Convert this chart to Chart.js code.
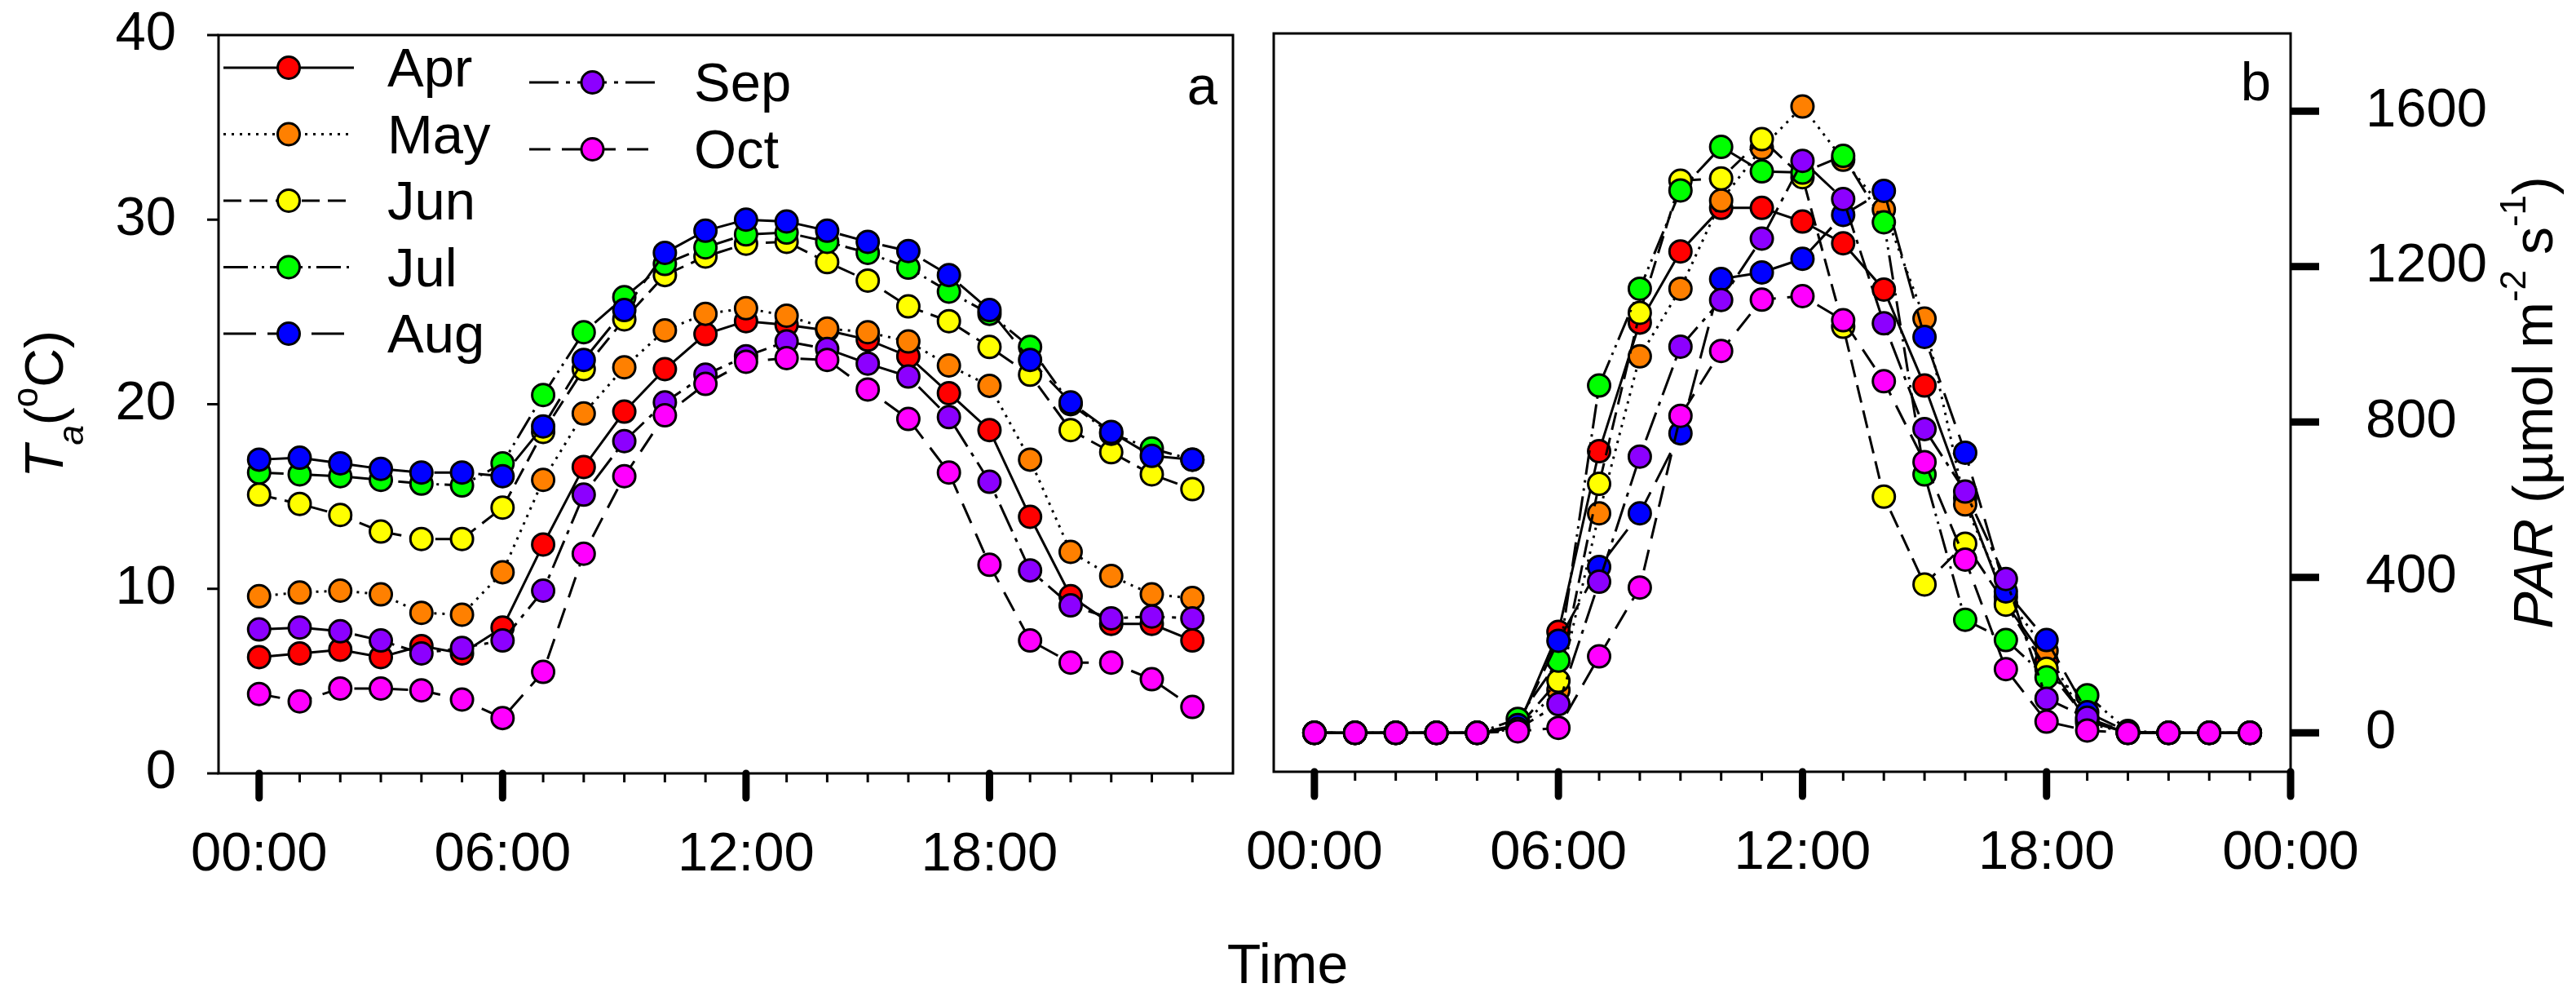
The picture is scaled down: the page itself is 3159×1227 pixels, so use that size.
<!DOCTYPE html>
<html>
<head>
<meta charset="utf-8">
<script src="https://cdn.jsdelivr.net/npm/chart.js@4.4.0/dist/chart.umd.min.js"></script>
<style>
  html, body { margin: 0; padding: 0; background: #fff; }
  body { width: 3159px; height: 1227px; position: relative; overflow: hidden; }
  canvas { position: absolute; top: 0; }
  #taChart { left: 0; }
  #parChart { left: 1500px; }
</style>
</head>
<body>
<canvas id="taChart" width="1700" height="1227"></canvas>
<canvas id="parChart" width="1659" height="1227"></canvas>
<script>
// hour of day for every point
const hours = [0, 1, 2, 3, 4, 5, 6, 7, 8, 9, 10, 11, 12, 13, 14, 15, 16, 17, 18, 19, 20, 21, 22, 23];
const months = ['Apr', 'May', 'Jun', 'Jul', 'Aug', 'Sep', 'Oct'];
const monthColors = ['#ff0000', '#ff8000', '#ffff00', '#00ff00', '#0000ff', '#8c00ff', '#ff00ff'];
const lineDashes = [[], [3, 7], [22, 10], [30, 7, 3, 7, 3, 7], [40, 14], [36, 9, 5, 9], [26, 14]];

// air temperature (deg C), panel a
const taApr = [6.3, 6.5, 6.7, 6.3, 6.9, 6.5, 7.9, 12.4, 16.6, 19.6, 21.9, 23.8, 24.5, 24.3, 24.0, 23.5, 22.6, 20.6, 18.6, 13.9, 9.6, 8.1, 8.1, 7.2];
const taMay = [9.6, 9.8, 9.9, 9.7, 8.7, 8.6, 10.9, 15.9, 19.5, 22.0, 24.0, 24.9, 25.2, 24.8, 24.1, 23.9, 23.4, 22.1, 21.0, 17.0, 12.0, 10.7, 9.7, 9.5];
const taJun = [15.1, 14.6, 14.0, 13.1, 12.7, 12.7, 14.4, 18.5, 21.9, 24.6, 27.0, 28.0, 28.7, 28.8, 27.7, 26.7, 25.3, 24.5, 23.1, 21.6, 18.6, 17.4, 16.2, 15.4];
const taJul = [16.3, 16.2, 16.1, 15.9, 15.7, 15.6, 16.8, 20.5, 23.9, 25.8, 27.6, 28.5, 29.2, 29.3, 28.8, 28.2, 27.4, 26.1, 24.9, 23.1, 20.0, 18.4, 17.6, 17.0];
const taAug = [17.0, 17.1, 16.8, 16.5, 16.3, 16.3, 16.1, 18.8, 22.4, 25.1, 28.2, 29.4, 30.0, 29.9, 29.4, 28.8, 28.3, 27.0, 25.1, 22.4, 20.1, 18.5, 17.2, 17.0];
const taSep = [7.8, 7.9, 7.7, 7.2, 6.5, 6.8, 7.2, 9.9, 15.1, 18.0, 20.1, 21.6, 22.6, 23.4, 23.0, 22.2, 21.5, 19.3, 15.8, 11.0, 9.1, 8.4, 8.5, 8.4];
const taOct = [4.3, 3.9, 4.6, 4.6, 4.5, 4.0, 3.0, 5.5, 11.9, 16.1, 19.4, 21.1, 22.3, 22.5, 22.4, 20.8, 19.2, 16.3, 11.3, 7.2, 6.0, 6.0, 5.1, 3.6];

// PAR (umol m-2 s-1), panel b
const parApr = [0, 0, 0, 0, 0, 15, 260, 725, 1056, 1239, 1351, 1351, 1316, 1260, 1141, 894, 605, 333, 185, 30, 0, 0, 0, 0];
const parMay = [0, 0, 0, 0, 0, 10, 110, 565, 969, 1143, 1370, 1505, 1612, 1475, 1347, 1066, 588, 350, 211, 25, 0, 0, 0, 0];
const parJun = [0, 0, 0, 0, 0, 15, 134, 641, 1081, 1421, 1427, 1528, 1430, 1045, 608, 382, 487, 330, 165, 35, 0, 0, 0, 0];
const parJul = [0, 0, 0, 0, 0, 36, 186, 894, 1143, 1396, 1508, 1445, 1442, 1485, 1314, 665, 291, 239, 143, 97, 5, 0, 0, 0];
const parAug = [0, 0, 0, 0, 0, 20, 237, 427, 565, 771, 1168, 1185, 1220, 1333, 1395, 1019, 721, 364, 239, 53, 3, 0, 0, 0];
const parSep = [0, 0, 0, 0, 0, 10, 74, 389, 711, 994, 1114, 1272, 1472, 1374, 1054, 782, 621, 396, 88, 39, 0, 0, 0, 0];
const parOct = [0, 0, 0, 0, 0, 4, 13, 197, 374, 816, 983, 1115, 1124, 1062, 905, 697, 446, 164, 29, 6, 0, 0, 0, 0];

const taTicks = [0, 10, 20, 30, 40];
const parTicks = [0, 400, 800, 1200, 1600];
const majorHours = [0, 6, 12, 18, 24];
const timeLabels = ['00:00', '06:00', '12:00', '18:00', '00:00'];

const FONT = '"Liberation Sans", Arial, sans-serif';

function fontOf(p) {
    return (p.italic ? 'italic ' : '') + p.size + 'px ' + FONT;
}

// draws a run of text pieces (sub/superscripts via dy), centred on y
function drawRich(ctx, parts, x, y, vertical) {
    ctx.save();
    ctx.translate(x, y);
    if (vertical) ctx.rotate(-Math.PI / 2);
    let total = 0;
    parts.forEach(p => {
        ctx.font = fontOf(p);
        p.w = ctx.measureText(p.t).width;
        total += p.w;
    });
    let cur = -total / 2;
    ctx.fillStyle = '#000';
    ctx.textAlign = 'left';
    ctx.textBaseline = 'alphabetic';
    parts.forEach(p => {
        ctx.font = fontOf(p);
        ctx.fillText(p.t, cur, p.dy || 0);
        cur += p.w;
    });
    ctx.restore();
}

function makeDatasets(series) {
    return series.map((vals, i) => ({
        label: months[i],
        data: hours.map((h, j) => ({ x: h, y: vals[j] })),
        borderColor: '#000',
        borderWidth: 3,
        borderDash: lineDashes[i],
        backgroundColor: monthColors[i],
        pointBackgroundColor: monthColors[i],
        pointBorderColor: '#000',
        pointBorderWidth: 3,
        pointRadius: 13.5,
        pointHoverRadius: 13.5,
        tension: 0,
        order: months.length - i
    }));
}

// tick marks are drawn by framePlugin; the hidden tickLength only spaces the labels
function hiddenGrid(len) {
    return { display: false, drawTicks: true, tickLength: len };
}

function xScale(labelHours, height) {
    return {
        type: 'linear',
        min: -1,
        max: 24,
        grid: hiddenGrid(60),
        border: { display: false },
        afterBuildTicks: s => { s.ticks = labelHours.map(v => ({ value: v })); },
        afterFit: s => { s.height = height; },
        ticks: {
            autoSkip: false,
            maxRotation: 0,
            padding: 0,
            color: '#000',
            font: { family: FONT, size: 67 },
            callback: v => timeLabels[majorHours.indexOf(v)]
        }
    };
}

function yScale(opts) {
    return {
        type: 'linear',
        position: opts.position,
        min: opts.min,
        max: opts.max,
        grid: hiddenGrid(opts.gap),
        border: { display: false },
        afterBuildTicks: s => { s.ticks = opts.ticks.map(v => ({ value: v })); },
        afterFit: s => { s.width = opts.width; },
        ticks: {
            padding: 0,
            color: '#000',
            font: { family: FONT, size: 67 },
            callback: v => String(v)
        }
    };
}

// frame + SigmaPlot style tick marks
function framePlugin(lastHour, yTickLen, yTickWidth, yOnRight) {
    return {
        id: 'frameTicks',
        afterDraw(chart) {
            const ctx = chart.ctx, a = chart.chartArea;
            const xs = chart.scales.x, ys = chart.scales.y;
            ctx.save();
            ctx.strokeStyle = '#000';
            ctx.lineWidth = 3;
            ctx.strokeRect(a.left, a.top, a.right - a.left, a.bottom - a.top);
            for (let h = 0; h <= lastHour; h++) {
                const px = xs.getPixelForValue(h);
                const major = h % 6 === 0;
                ctx.lineWidth = major ? 9 : 3;
                ctx.lineCap = major ? 'round' : 'butt';
                ctx.beginPath();
                ctx.moveTo(px, a.bottom);
                ctx.lineTo(px, a.bottom + (major ? 30 : 11));
                ctx.stroke();
            }
            ctx.lineCap = 'butt';
            ctx.lineWidth = yTickWidth;
            ys.ticks.forEach(t => {
                const py = ys.getPixelForValue(t.value);
                ctx.beginPath();
                if (yOnRight) {
                    ctx.moveTo(a.right, py);
                    ctx.lineTo(a.right + yTickLen, py);
                } else {
                    ctx.moveTo(a.left - yTickLen, py);
                    ctx.lineTo(a.left, py);
                }
                ctx.stroke();
            });
            ctx.restore();
        }
    };
}

const taLabels = {
    id: 'taLabels',
    afterDraw(chart) {
        const ctx = chart.ctx, a = chart.chartArea;
        const cy = (a.top + a.bottom) / 2;
        drawRich(ctx, [
            { t: 'T', size: 66, italic: true },
            { t: 'a', size: 44, italic: true, dy: 25 },
            { t: '(', size: 66 },
            { t: 'o', size: 44, dy: -31 },
            { t: 'C)', size: 66 }
        ], 77, cy, true);
        drawRich(ctx, [{ t: 'Time', size: 68 }], 1579, 1205, false);
        ctx.save();
        ctx.fillStyle = '#000';
        ctx.font = '67px ' + FONT;
        ctx.textAlign = 'right';
        ctx.textBaseline = 'alphabetic';
        ctx.fillText('a', a.right - 19, 128);
        // legend: line + marker + label, two columns
        chart.data.datasets.forEach((ds, i) => {
            const col2 = i >= 5;
            const x1 = col2 ? 649 : 274, x2 = col2 ? 804 : 434;
            const y = col2 ? 101 + 82 * (i - 5) : 83 + 81.5 * i;
            ctx.strokeStyle = '#000';
            ctx.lineWidth = 3;
            ctx.setLineDash(ds.borderDash);
            ctx.beginPath();
            ctx.moveTo(x1, y);
            ctx.lineTo(x2, y);
            ctx.stroke();
            ctx.setLineDash([]);
            ctx.beginPath();
            ctx.arc((x1 + x2) / 2, y, 13.5, 0, Math.PI * 2);
            ctx.fillStyle = ds.pointBackgroundColor;
            ctx.fill();
            ctx.stroke();
            ctx.fillStyle = '#000';
            ctx.textAlign = 'left';
            ctx.fillText(ds.label, col2 ? 851 : 475, y + 23);
        });
        ctx.restore();
    }
};

const parLabels = {
    id: 'parLabels',
    afterDraw(chart) {
        const ctx = chart.ctx, a = chart.chartArea;
        const cy = (a.top + a.bottom) / 2;
        drawRich(ctx, [
            { t: 'PAR', size: 68, italic: true },
            { t: ' (\u00b5mol m', size: 68 },
            { t: '-2', size: 44, dy: -33 },
            { t: ' s', size: 68 },
            { t: '-1', size: 44, dy: -33 },
            { t: ')', size: 68 }
        ], 1630, cy, true);
        ctx.save();
        ctx.fillStyle = '#000';
        ctx.font = '67px ' + FONT;
        ctx.textAlign = 'right';
        ctx.textBaseline = 'alphabetic';
        ctx.fillText('b', a.right - 24, 123);
        ctx.restore();
    }
};

new Chart(document.getElementById('taChart').getContext('2d'), {
    type: 'line',
    data: { datasets: makeDatasets([taApr, taMay, taJun, taJul, taAug, taSep, taOct]) },
    options: {
        responsive: false,
        animation: false,
        layout: { padding: { top: 43, right: 188, left: 0, bottom: 0 } },
        plugins: { legend: { display: false }, tooltip: { enabled: false } },
        scales: {
            x: xScale([0, 6, 12, 18], 279),
            y: yScale({ position: 'left', min: 0, max: 40, ticks: taTicks, width: 268, gap: 52 })
        }
    },
    plugins: [framePlugin(23, 14, 3, false), taLabels]
});

new Chart(document.getElementById('parChart').getContext('2d'), {
    type: 'line',
    data: { datasets: makeDatasets([parApr, parMay, parJun, parJul, parAug, parSep, parOct]) },
    options: {
        responsive: false,
        animation: false,
        layout: { padding: { top: 41, right: 0, left: 62, bottom: 0 } },
        plugins: { legend: { display: false }, tooltip: { enabled: false } },
        scales: {
            x: xScale(majorHours, 281),
            y: yScale({ position: 'right', min: -100, max: 1800, ticks: parTicks, width: 350, gap: 92 })
        }
    },
    plugins: [framePlugin(24, 35, 9, true), parLabels]
});
</script>
</body>
</html>
